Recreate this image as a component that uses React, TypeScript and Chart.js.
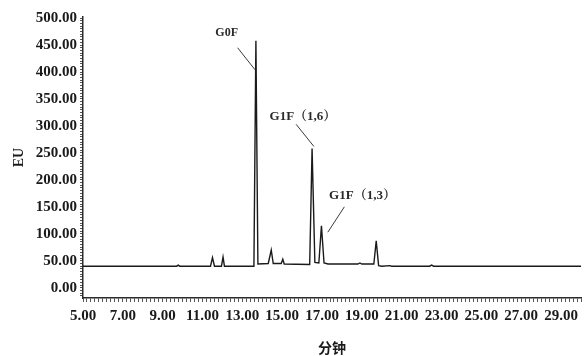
import React, { useEffect, useRef } from "react";
import { Chart, registerables } from "chart.js";

Chart.register(...registerables);

// Chromatogram trace (minutes, EU)
const times = [
  5.0, 9.7, 9.78, 9.86, 11.4, 11.5, 11.6, 11.95, 12.03, 12.1, 13.58, 13.68, 13.78,
  14.3, 14.45, 14.55, 14.95, 15.03, 15.1, 16.38, 16.5, 16.64, 16.84, 16.97, 17.1, 17.3,
  18.8, 18.9, 19.0, 19.6, 19.72, 19.84, 20.0, 20.4, 20.5, 22.4, 22.5, 22.6, 30.0,
];
const values = [
  40, 40, 42, 40, 40, 56, 40, 40, 57, 40, 40, 458, 44,
  45, 70, 45, 45, 53, 44, 43, 258, 47, 46, 115, 46, 44,
  44, 46, 44, 44, 87, 41, 40, 41, 40, 40, 42, 40, 40,
];

// Axis settings
const xMin = 5;
const xMax = 30;
const yMin = -19;
const yMax = 502;

// Peak annotations (text, text position, leader line from -> to), in data units
const annoTexts = ["G0F", "G1F（1,6）", "G1F（1,3）"];
const annoTextX = [12.21, 16.04, 19.03];
const annoTextY = [472, 318, 171];
const annoLineFromX = [12.76, 15.7, 18.12];
const annoLineFromY = [445, 303, 150];
const annoLineToX = [13.64, 16.59, 17.29];
const annoLineToY = [404, 262, 103];
const annoFontSize = [12, 13, 13];

const SERIF = '"Liberation Serif", "Noto Serif CJK SC", "Noto Sans CJK SC", serif';

const annotationPlugin = {
  id: "peakLabels",
  afterDatasetsDraw(chart: any) {
    const { ctx, scales } = chart;
    const xs = scales.x;
    const ys = scales.y;
    ctx.save();
    for (let i = 0; i < annoTexts.length; i++) {
      ctx.strokeStyle = "#3a3a3a";
      ctx.lineWidth = 1;
      ctx.beginPath();
      ctx.moveTo(xs.getPixelForValue(annoLineFromX[i]), ys.getPixelForValue(annoLineFromY[i]));
      ctx.lineTo(xs.getPixelForValue(annoLineToX[i]), ys.getPixelForValue(annoLineToY[i]));
      ctx.stroke();
      ctx.fillStyle = "#2a2a2a";
      ctx.font = `bold ${annoFontSize[i]}px ${SERIF}`;
      ctx.textAlign = "center";
      ctx.textBaseline = "middle";
      ctx.fillText(annoTexts[i], xs.getPixelForValue(annoTextX[i]), ys.getPixelForValue(annoTextY[i]));
    }
    ctx.restore();
  },
};

export default function App() {
  const canvasRef = useRef<HTMLCanvasElement | null>(null);

  useEffect(() => {
    if (!canvasRef.current) return;
    const data = times.map((t, i) => ({ x: t, y: values[i] }));
    const chart = new Chart(canvasRef.current, {
      type: "line",
      data: {
        datasets: [
          {
            data,
            borderColor: "#1a1a1a",
            borderWidth: 1.4,
            pointRadius: 0,
            tension: 0,
            fill: false,
          },
        ],
      },
      options: {
        animation: false,
        responsive: false,
        events: [],
        layout: { padding: { top: 17, right: 1, left: 0, bottom: 0 } },
        plugins: {
          legend: { display: false },
          tooltip: { enabled: false },
        },
        scales: {
          x: {
            type: "linear",
            min: xMin,
            max: xMax,
            afterFit: (s: any) => {
              s.height = 58;
            },
            border: { display: true, color: "#2a2a2a", width: 1.5 },
            grid: {
              display: true,
              drawOnChartArea: false,
              drawTicks: true,
              tickLength: 4,
              color: "#555",
              lineWidth: 1,
            },
            ticks: {
              stepSize: 0.2,
              autoSkip: false,
              includeBounds: false,
              maxRotation: 0,
              minRotation: 0,
              padding: 5,
              color: "#1a1a1a",
              font: { family: SERIF, size: 15, weight: "bold" },
              callback: (v: any) => {
                const r = Math.round(Number(v) * 10) / 10;
                if (Number.isInteger(r) && r % 2 === 1 && r >= 5 && r <= 29) return r.toFixed(2);
                return "";
              },
            },
            title: {
              display: true,
              text: "分钟",
              color: "#1a1a1a",
              font: { family: '"Noto Sans CJK SC", sans-serif', size: 14, weight: "bold", lineHeight: 1 },
              padding: { top: 0, bottom: 1 },
            },
          },
          y: {
            type: "linear",
            min: yMin,
            max: yMax,
            afterFit: (s: any) => {
              s.width = 83;
            },
            border: { display: true, color: "#2a2a2a", width: 1.5 },
            grid: {
              display: true,
              drawOnChartArea: false,
              drawTicks: true,
              tickLength: 3,
              color: "#555",
              lineWidth: 1,
            },
            ticks: {
              stepSize: 5,
              autoSkip: false,
              includeBounds: false,
              padding: 3,
              color: "#1a1a1a",
              font: { family: SERIF, size: 15, weight: "bold" },
              callback: (v: any) => {
                const n = Number(v);
                const r = Math.round(n);
                if (Math.abs(n - r) < 1e-6 && r % 50 === 0 && r >= 0 && r <= 500) return r.toFixed(2);
                return "";
              },
            },
            title: {
              display: true,
              text: "EU",
              color: "#1a1a1a",
              font: { family: SERIF, size: 14, weight: "bold", lineHeight: 1 },
              padding: { top: 12, bottom: 0 },
            },
          },
        },
      },
      plugins: [annotationPlugin],
    });
    return () => chart.destroy();
  }, []);

  return (
    <div style={{ position: "fixed", left: 0, top: 0, width: 586, height: 356, background: "#fff" }}>
      <canvas ref={canvasRef} width={586} height={356} style={{ display: "block" }} />
    </div>
  );
}
